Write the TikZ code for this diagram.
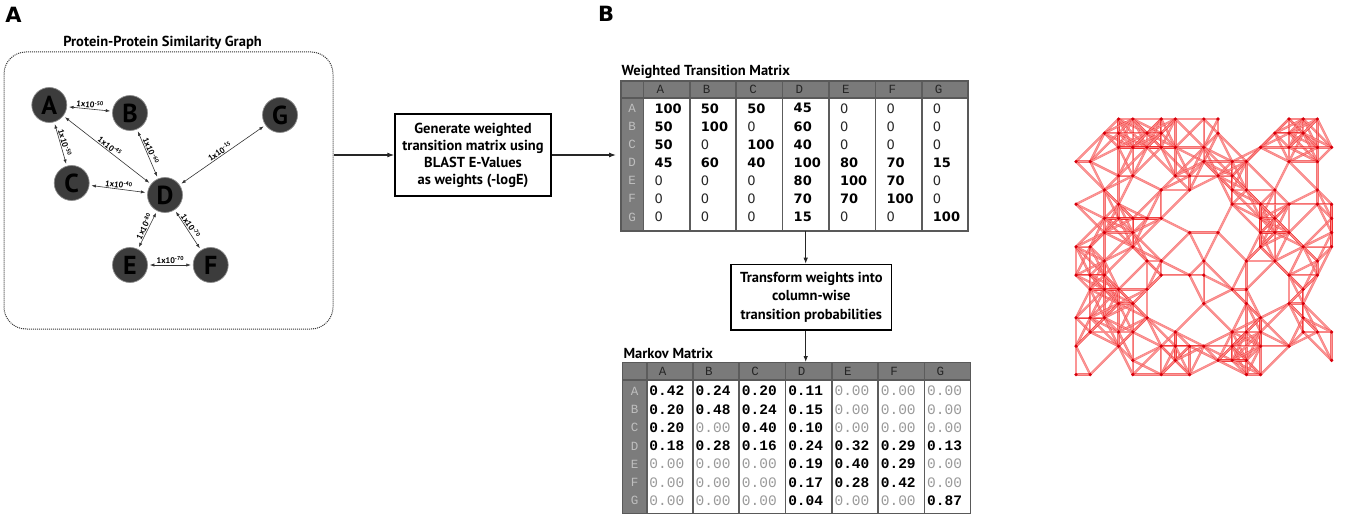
\documentclass[tikz,border=0pt]{standalone}
\usepackage{fontspec}
\setmainfont{PT Sans}
\newfontfamily\numfont{DejaVu Sans}
\newfontfamily\codefont{Liberation Mono}
\usetikzlibrary{arrows.meta}
\definecolor{nodegray}{HTML}{3C3C3C}
\definecolor{hdrgray}{HTML}{7A7A7A}
\definecolor{rowgray}{HTML}{7C7C7C}
\definecolor{sepgray}{HTML}{5C5C5C}
\definecolor{meshred}{HTML}{F02828}
\definecolor{meshpink}{HTML}{FFA8A8}
\definecolor{dotred}{HTML}{D8000C}
\definecolor{zerogray}{HTML}{9A9A9A}
\newcommand\ev[1]{1x10\textsuperscript{-#1}}
\def\meshpts{3/0,4/0,6/0,7/0,9/0,10/0,15/0,16/0,17/0,
2/1,3/1,5/1,6/1,10/1,14/1,15/1,16/1,
3/2,4/2,5/2,6/2,7/2,9/2,13/2,15/2,17/2,18/2,
0/3,1/3,9/3,11/3,12/3,15/3,17/3,
3/4,4/4,7/4,8/4,10/4,11/4,
2/5,6/5,8/5,11/5,12/5,14/5,17/5,
0/6,3/6,11/6,13/6,15/6,17/6,18/6,
2/7,3/7,4/7,5/7,6/7,13/7,14/7,18/7,
2/8,4/8,8/8,10/8,13/8,14/8,15/8,18/8,
0/9,1/9,4/9,13/9,16/9,18/9,
2/10,5/10,6/10,9/10,12/10,14/10,17/10,
0/11,1/11,2/11,6/11,8/11,9/11,15/11,17/11,
1/12,2/12,3/12,5/12,11/12,12/12,16/12,
3/13,4/13,9/13,12/13,15/13,16/13,
0/14,1/14,2/14,5/14,13/14,16/14,
1/15,3/15,4/15,7/15,11/15,12/15,13/15,16/15,17/15,18/15,
0/16,3/16,6/16,7/16,8/16,9/16,11/16,13/16,15/16,
4/17,7/17,10/17,11/17,12/17,18/17,
0/18,1/18,4/18,6/18,8/18,12/18,13/18}
\begin{document}
\begin{tikzpicture}[x=1pt,y=-1pt,
  panellabel/.style={font=\numfont\bfseries\fontsize{21}{21}\selectfont, inner sep=0pt},
  titletext/.style={font=\fontsize{14.5}{15}\selectfont\bfseries, inner sep=0pt},
  pnode/.style={circle, fill=nodegray, draw=black!45, line width=0.7pt, minimum size=35pt, inner sep=0pt, font=\fontsize{26}{26}\selectfont\bfseries, text=black},
  gedge/.style={{Latex[length=4.5pt,width=3.2pt]}-{Latex[length=4.5pt,width=3.2pt]}, draw=black!80, line width=0.6pt, shorten >=2pt, shorten <=2pt},
  elabel/.style={sloped, above, font=\fontsize{8.2}{9}\selectfont\bfseries, inner sep=0.8pt},
  procbox/.style={draw=black, line width=1.5pt, align=center, inner sep=0pt, font=\fontsize{14.5}{17}\selectfont\bfseries},
  flow/.style={-{Latex[length=7pt,width=5pt]}, line width=1.1pt, draw=black!85},
  flowthin/.style={-{Latex[length=6pt,width=4.5pt]}, line width=0.9pt, draw=black!85},
  sepline/.style={draw=sepgray, line width=1.6pt},
  tborder/.style={draw=black!65, line width=1.2pt},
  hdrtext/.style={font=\codefont\fontsize{12.5}{13}\selectfont, text=black!85, inner sep=0pt},
  rowtext/.style={font=\codefont\fontsize{12.5}{13}\selectfont, text=black!25, inner sep=0pt},
  wval/.style={font=\numfont\bfseries\fontsize{13}{14}\selectfont, text=black, inner sep=0pt, anchor=west},
  wzero/.style={font=\numfont\fontsize{13}{14}\selectfont, text=black!85, inner sep=0pt, anchor=west},
  mval/.style={font=\codefont\bfseries\fontsize{14.5}{15}\selectfont, text=black, inner sep=0pt, anchor=west},
  mzero/.style={font=\codefont\fontsize{14.5}{15}\selectfont, text=zerogray, inner sep=0pt, anchor=west},
  meshedge/.style={draw=meshred, line width=0.5pt, double=meshpink, double distance=1.3pt, opacity=0.65},
  meshdot/.style={circle, fill=dotred, inner sep=0pt, minimum size=3.6pt}
]
\useasboundingbox (0,0) rectangle (1346,516);

% panel labels
\node[panellabel] (labA) at (13.5,14.5) {A};
\node[panellabel] (labB) at (606,14) {B};

% ---------- panel A ----------
\node[titletext] (gtitle) at (162.5,43) {Protein-Protein Similarity Graph};
\node[draw=black!80, line width=1pt, dash pattern=on 1pt off 1pt, rounded corners=22pt,
      minimum width=329pt, minimum height=277pt, inner sep=0pt] (gbox) at (168.5,190.5) {};

\node[pnode] (A) at (49.3,105) {A};
\node[pnode] (B) at (130,113) {B};
\node[pnode] (G) at (280,115) {G};
\node[pnode] (C) at (71.7,183) {C};
\node[pnode] (D) at (165,195) {D};
\node[pnode] (E) at (130,265) {E};
\node[pnode] (F) at (210.7,265) {F};

\draw[gedge] (A) -- node[elabel] {\ev{50}} (B);
\draw[gedge] (A) -- node[elabel] {\ev{50}} (C);
\draw[gedge] (A) -- node[elabel] {\ev{45}} (D);
\draw[gedge] (B) -- node[elabel, pos=0.47] {\ev{60}} (D);
\draw[gedge] (D) -- node[elabel] {\ev{15}} (G);
\draw[gedge] (C) -- node[elabel] {\ev{40}} (D);
\draw[gedge] (D) -- node[elabel, pos=0.46] {\ev{80}} (E);
\draw[gedge] (D) -- node[elabel, pos=0.46] {\ev{70}} (F);
\draw[gedge] (E) -- node[elabel] {\ev{70}} (F);

% ---------- process box 1 ----------
\node[procbox, minimum width=156pt, minimum height=82pt] (gen) at (473,155)
  {Generate weighted\\transition matrix using\\BLAST E-Values\\as weights (-logE)};
\coordinate (win) at (616,155);
\draw[flow] (gbox.east |- gen.west) -- (gen.west);
\draw[flow] (gen.east) -- (win);

% ---------- weighted transition matrix ----------
\node[titletext, anchor=west] (wtitle) at (621.5,71.7) {Weighted Transition Matrix};
\fill[hdrgray] (621,81) rectangle (968,98);
\fill[rowgray] (621,98) rectangle (643.3,231);
\fill[white] (643.3,98) rectangle (968,231);
\foreach \k in {0,...,6} \draw[sepline] (643.3+46.4*\k,81) -- (643.3+46.4*\k,231);
\draw[tborder] (621,98) -- (968,98);
\draw[tborder] (621,81) rectangle (968,231);
\foreach \c [count=\i from 0] in {A,B,C,D,E,F,G} {
  \node[hdrtext, anchor=west] (wh-\i) at (643.3+46.4*\i+13,89.5) {\c};
  \node[rowtext] (wr-\i) at (632,108.3+18.1*\i) {\c};
}
\foreach \row [count=\r from 0] in {{100,50,50,45,0,0,0},{50,100,0,60,0,0,0},{50,0,100,40,0,0,0},{45,60,40,100,80,70,15},{0,0,0,80,100,70,0},{0,0,0,70,70,100,0},{0,0,0,15,0,0,100}} {
  \foreach \v [count=\c from 0] in \row {
    \ifnum\v=0
      \node[wzero] (w-\r-\c) at (643.3+46.4*\c+11,108.3+18.1*\r) {\v};
    \else
      \node[wval] (w-\r-\c) at (643.3+46.4*\c+11,108.3+18.1*\r) {\v};
    \fi
  }
}

% ---------- transform box ----------
\node[procbox, line width=1.3pt, minimum width=160.7pt, minimum height=65.7pt, font=\fontsize{14.5}{18.2}\selectfont\bfseries] (trans) at (811.3,297.2)
  {Transform weights into\\column-wise\\transition probabilities};
\coordinate (wbot) at (805.7,231);
\coordinate (mtop) at (805.7,362);
\draw[flowthin] (wbot) -- (wbot |- trans.north);
\draw[flowthin] (trans.south -| mtop) -- (mtop);

% ---------- Markov matrix ----------
\node[titletext, anchor=west] (mtitle) at (623.3,353.3) {Markov Matrix};
\fill[hdrgray] (622.7,362.3) rectangle (970.7,380);
\fill[rowgray] (622.7,380) rectangle (646.7,513.3);
\fill[white] (646.7,380) rectangle (970.7,513.3);
\foreach \k in {0,...,6} \draw[sepline] (646.7+46.29*\k,362.3) -- (646.7+46.29*\k,513.3);
\draw[tborder] (622.7,380) -- (970.7,380);
\draw[tborder] (622.7,362.3) rectangle (970.7,513.3);
\foreach \c [count=\i from 0] in {A,B,C,D,E,F,G} {
  \node[hdrtext, anchor=west] (mh-\i) at (646.7+46.29*\i+12,371.2) {\c};
  \node[rowtext] (mr-\i) at (634.7,391+18.3*\i) {\c};
}
\foreach \row [count=\r from 0] in {{0.42,0.24,0.20,0.11,0.00,0.00,0.00},{0.20,0.48,0.24,0.15,0.00,0.00,0.00},{0.20,0.00,0.40,0.10,0.00,0.00,0.00},{0.18,0.28,0.16,0.24,0.32,0.29,0.13},{0.00,0.00,0.00,0.19,0.40,0.29,0.00},{0.00,0.00,0.00,0.17,0.28,0.42,0.00},{0.00,0.00,0.00,0.04,0.00,0.00,0.87}} {
  \foreach \v [count=\c from 0] in \row {
    \ifdim\v pt=0pt
      \node[mzero] (m-\r-\c) at (646.7+46.29*\c+2.5,391+18.3*\r) {\v};
    \else
      \node[mval] (m-\r-\c) at (646.7+46.29*\c+2.5,391+18.3*\r) {\v};
    \fi
  }
}

% ---------- red mesh ----------
\foreach \xa/\ya [count=\n] in \meshpts {
  \coordinate (p\n) at (1076+14.2*\xa,119+14.2*\ya);
}
\foreach \xa/\ya [count=\na] in \meshpts {
  \foreach \xb/\yb [count=\nb] in \meshpts {
    \ifnum\nb>\na
      \ifnum\numexpr(\xa-\xb)*(\xa-\xb)+(\ya-\yb)*(\ya-\yb)\relax<9
        \draw[meshedge] (p\na) -- (p\nb);
      \fi
    \fi
  }
}
\foreach \xa/\ya [count=\n] in \meshpts {
  \node[meshdot] (q\n) at (p\n) {};
}
\end{tikzpicture}
\end{document}
